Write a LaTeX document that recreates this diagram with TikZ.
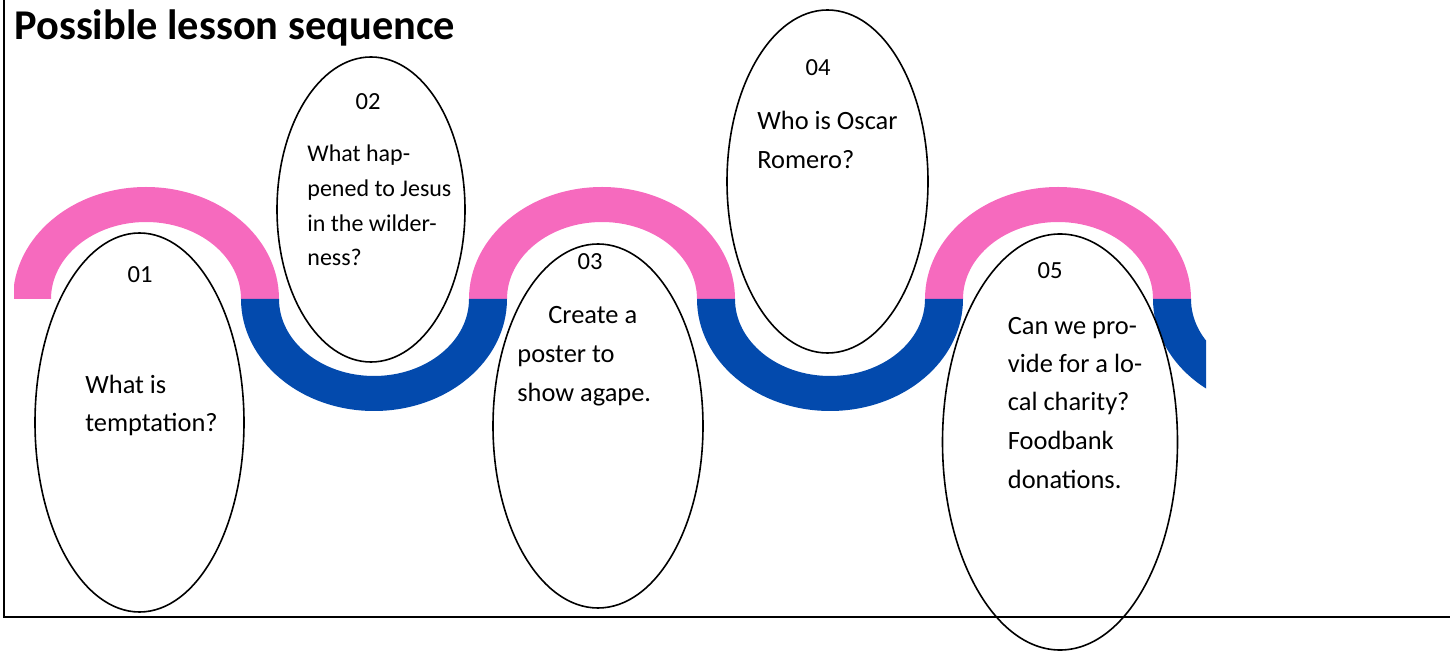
\documentclass[tikz,border=0pt]{standalone}
\usepackage{fontspec}
\setmainfont{Carlito}
\usetikzlibrary{shapes.geometric}
\definecolor{wavepink}{RGB}{246,106,190}
\definecolor{waveblue}{RGB}{3,74,173}
\tikzset{
  lessonoval/.style={draw=black, line width=0.8pt, ellipse, inner sep=0pt, outer sep=0pt},
  num/.style={anchor=base, inner sep=0pt, font=\fontsize{12.3}{14}\selectfont},
  txt/.style={anchor=base west, inner sep=0pt, font=\fontsize{13.2}{15}\selectfont},
  smalltxt/.style={anchor=base west, inner sep=0pt, font=\fontsize{12}{14}\selectfont},
  frameline/.style={line width=1.3pt, black},
}
\begin{document}
\begin{tikzpicture}[x=0.5pt, y=0.5pt]
\useasboundingbox (0,0) rectangle (1450,-651);
% frame
\coordinate (ftop) at (4,0);
\coordinate (fcorner) at (4,-617);
\coordinate (fright) at (1450,-617);
\draw[frameline] (ftop) -- (fcorner) -- (fright);
% title
\node[anchor=base west, inner sep=0pt, font=\fontsize{21.2}{24}\selectfont\bfseries] (title) at (14,-40) {Possible lesson sequence};
% wave
\begin{scope}
\clip (14,-150) rectangle (1206,-420);
\foreach \cx in {146,602,1058}{
  \fill[wavepink] (\cx-133,-299) arc[start angle=180, end angle=0, x radius=66.5pt, y radius=56pt]
     -- (\cx+95,-299) arc[start angle=0, end angle=180, x radius=47.5pt, y radius=38.5pt] -- cycle;
}
\foreach \cx in {374,830,1286}{
  \fill[waveblue] (\cx-133,-299) arc[start angle=180, end angle=360, x radius=66.5pt, y radius=56pt]
     -- (\cx+95,-299) arc[start angle=360, end angle=180, x radius=47.5pt, y radius=38.5pt] -- cycle;
}
\end{scope}
% ovals
\node[lessonoval, minimum width=104.5pt, minimum height=189.5pt] (e1) at (139.5,-422.5) {};
\node[lessonoval, minimum width=94pt, minimum height=152.5pt] (e2) at (371,-209.5) {};
\node[lessonoval, minimum width=105pt, minimum height=182pt] (e3) at (598,-426) {};
\node[lessonoval, minimum width=100.5pt, minimum height=171.5pt] (e4) at (827.5,-181.5) {};
\node[lessonoval, minimum width=117.5pt, minimum height=208pt] (e5) at (1060,-442) {};
% 01
\node[num] (n1) at (140,-283) {01};
\node[txt] (t1a) at (85,-394) {What is};
\node[txt] (t1b) at (85,-432) {temptation?};
% 02
\node[num] (n2) at (368,-110) {02};
\node[smalltxt] (t2a) at (307,-161.7) {What hap-};
\node[smalltxt] (t2b) at (307,-196.5) {pened to Jesus};
\node[smalltxt] (t2c) at (307,-231.3) {in the wilder-};
\node[smalltxt] (t2d) at (307,-266) {ness?};
% 03
\node[num] (n3) at (590,-270) {03};
\node[txt] (t3a) at (548,-324) {Create a};
\node[txt] (t3b) at (517,-363) {poster to};
\node[txt] (t3c) at (517,-401.7) {show agape.};
% 04
\node[num] (n4) at (818,-76) {04};
\node[txt] (t4a) at (757,-130) {Who is Oscar};
\node[txt] (t4b) at (757,-168.3) {Romero?};
% 05
\node[num] (n5) at (1050,-279) {05};
\node[txt] (t5a) at (1007.5,-334.3) {Can we pro-};
\node[txt] (t5b) at (1007.5,-372.7) {vide for a lo-};
\node[txt] (t5c) at (1007.5,-411) {cal charity?};
\node[txt] (t5d) at (1007.5,-449.5) {Foodbank};
\node[txt] (t5e) at (1007.5,-488.3) {donations.};
\end{tikzpicture}
\end{document}
